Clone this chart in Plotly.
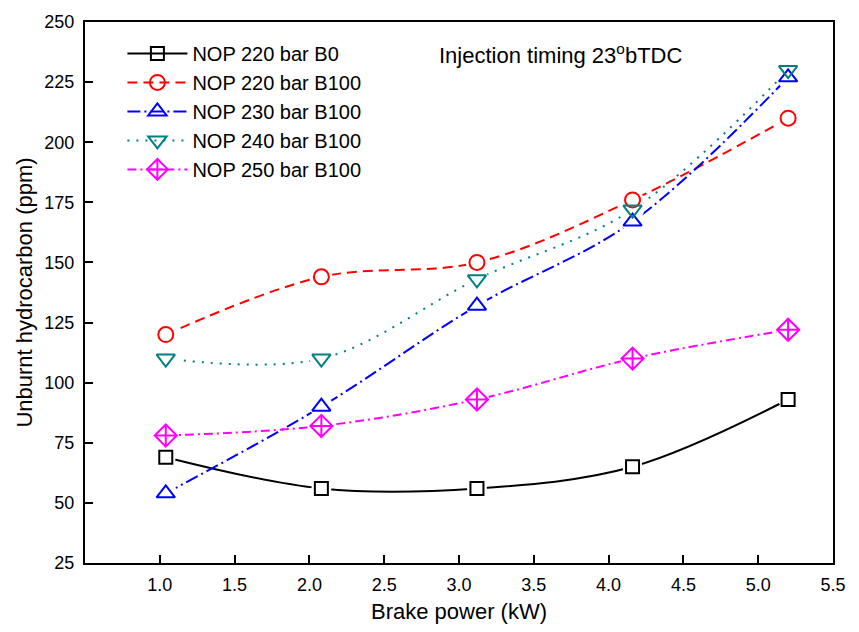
import plotly.graph_objects as go

x_power = [1.04, 2.08, 3.12, 4.16, 5.2]
hc_220_b0 = [69, 56, 56, 65, 93]
hc_220_b100 = [120, 144, 150, 176, 210]
hc_230_b100 = [54, 90, 132, 167, 227]
hc_240_b100 = [110, 110, 143, 172, 230]
hc_250_b100 = [78, 82, 93, 110, 122]

names = ["NOP 220 bar B0", "NOP 220 bar B100", "NOP 230 bar B100",
         "NOP 240 bar B100", "NOP 250 bar B100"]
series = [hc_220_b0, hc_220_b100, hc_230_b100, hc_240_b100, hc_250_b100]
colors = ["#000000", "#FF0000", "#0000FF", "#008080", "#FF00FF"]
dashes = ["solid", "10px,6px", "13px,4px,2px,4px", "2px,7px", "9px,4px,2px,4px"]
symbols = ["square-open", "circle-open", "triangle-up-open", "triangle-down-open",
           "diamond-cross-open"]
msizes = [13, 15, 16, 16, 17]

fig = go.Figure()

for y, c, d in zip(series, colors, dashes):
    fig.add_trace(go.Scatter(x=x_power, y=y, mode="lines",
                             line=dict(color=c, width=2, dash=d, shape="spline", smoothing=1.0),
                             showlegend=False, hoverinfo="skip"))
for y, s in zip(series, msizes):
    fig.add_trace(go.Scatter(x=x_power, y=y, mode="markers",
                             marker=dict(symbol="circle", size=s + 7, color="white",
                                         line=dict(width=0)),
                             showlegend=False, hoverinfo="skip"))
for y, c, sy, s in zip(series, colors, symbols, msizes):
    fig.add_trace(go.Scatter(x=x_power, y=y, mode="markers",
                             marker=dict(symbol=sy, size=s, color=c, line=dict(color=c, width=2)),
                             showlegend=False))
for n, c, d, sy, s in zip(names, colors, dashes, symbols, msizes):
    fig.add_trace(go.Scatter(x=[None], y=[None], mode="lines+markers", name=n,
                             line=dict(color=c, width=2, dash=d),
                             marker=dict(symbol=sy, size=s, color=c, line=dict(color=c, width=2)),
                             legendgroup=n))

font_main = "Liberation Sans, Arial, sans-serif"

fig.update_layout(
    width=859, height=632,
    margin=dict(l=85, r=26, t=22, b=66),
    paper_bgcolor="white", plot_bgcolor="white",
    font=dict(family=font_main, color="black"),
    legend=dict(x=0.05, y=0.978, xanchor="left", yanchor="top",
                font=dict(size=20, family=font_main), bgcolor="rgba(0,0,0,0)",
                tracegroupgap=0, itemwidth=60),
    xaxis=dict(range=[0.5, 5.5], tickvals=[1.0, 1.5, 2.0, 2.5, 3.0, 3.5, 4.0, 4.5, 5.0, 5.5],
               tickformat=".1f", ticks="inside", ticklen=8, tickwidth=1.5, tickcolor="black",
               showline=True, linecolor="black", linewidth=2, mirror=True,
               showgrid=False, zeroline=False, ticklabelstandoff=4,
               tickfont=dict(size=18, family=font_main),
               title=dict(text="Brake power (kW)", font=dict(size=22, family=font_main),
                          standoff=10)),
    yaxis=dict(range=[25, 250], tickvals=list(range(25, 251, 25)),
               ticks="inside", ticklen=8, tickwidth=1.5, tickcolor="black",
               showline=True, linecolor="black", linewidth=2, mirror=True,
               showgrid=False, zeroline=False, ticklabelstandoff=5,
               tickfont=dict(size=18, family=font_main),
               title=dict(text="Unburnt hydrocarbon (ppm)", font=dict(size=22, family=font_main),
                          standoff=6)),
    annotations=[dict(x=0.47, y=0.94, xref="paper", yref="paper", xanchor="left",
                      yanchor="middle", showarrow=False,
                      text="Injection timing 23<sup>o</sup>bTDC",
                      font=dict(size=22, family=font_main))],
)

fig.write_html("out.html")
